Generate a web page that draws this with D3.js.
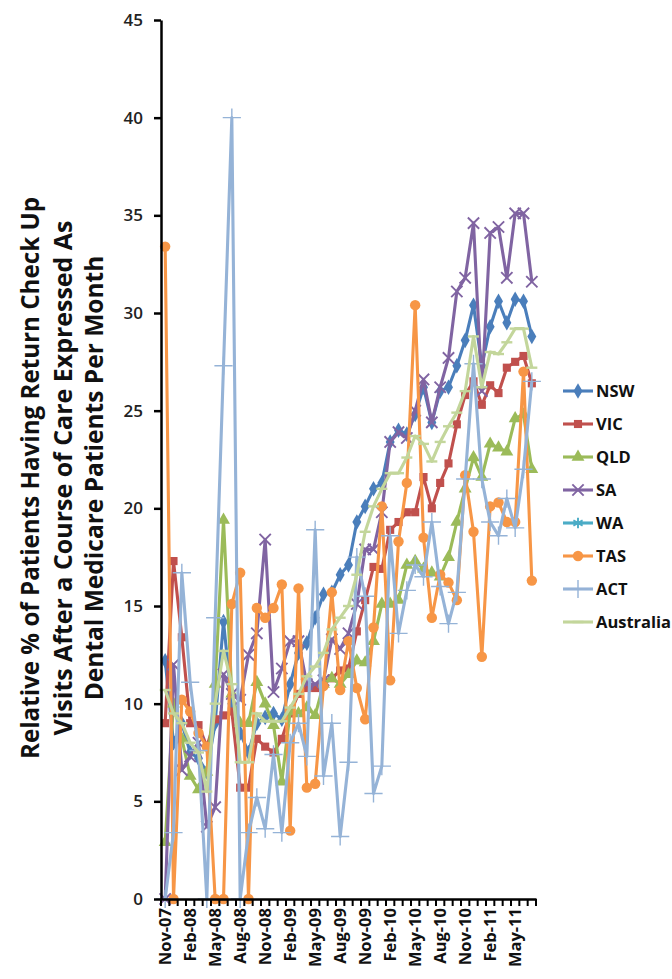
<!DOCTYPE html>
<html>
<head>
<meta charset="utf-8">
<script src="https://cdn.jsdelivr.net/npm/d3@7"></script>
<style>
    body { margin: 0; background: #fff; }
    text { font-family: "Open Sans", "DejaVu Sans", sans-serif; }
</style>
</head>
<body>
<svg id="chart" width="672" height="979"></svg>
<script>
// categories (one per month)
var months = ["Nov-07","Dec-07","Jan-08","Feb-08","Mar-08","Apr-08","May-08","Jun-08","Jul-08","Aug-08",
    "Sep-08","Oct-08","Nov-08","Dec-08","Jan-09","Feb-09","Mar-09","Apr-09","May-09","Jun-09",
    "Jul-09","Aug-09","Sep-09","Oct-09","Nov-09","Dec-09","Jan-10","Feb-10","Mar-10","Apr-10",
    "May-10","Jun-10","Jul-10","Aug-10","Sep-10","Oct-10","Nov-10","Dec-10","Jan-11","Feb-11",
    "Mar-11","Apr-11","May-11","Jun-11","Jul-11"];
var tickMonths = ["Nov-07","Feb-08","May-08","Aug-08","Nov-08","Feb-09","May-09","Aug-09",
    "Nov-09","Feb-10","May-10","Aug-10","Nov-10","Feb-11","May-11"];
var yTicks = [0, 5, 10, 15, 20, 25, 30, 35, 40, 45];

var seriesNames = ["NSW", "VIC", "QLD", "SA", "WA", "TAS", "ACT", "Australia"];
var seriesColors = ["#4a7ebb", "#c0504d", "#9bbb59", "#8064a2", "#4bacc6", "#f79646", "#95b3d7", "#c3d69b"];

var nsw = [12.2, 8.0, 9.0, 7.5, 7.2, 6.5, 9.0, 14.2, 10.0, 8.5, 7.5, 9.0, 9.3, 9.5, 9.2, 11.0, 12.6, 13.1, 14.4, 15.6,
    15.7, 16.6, 17.1, 19.3, 20.1, 21.0, 21.3, 23.4, 24.0, 23.8, 24.8, 26.2, 24.4, 26.0, 26.2, 27.3, 28.6, 30.4, 27.3, 29.3,
    30.6, 29.5, 30.7, 30.6, 28.8];
var vic = [9.0, 17.3, 13.4, 9.0, 8.9, 7.8, 9.2, 9.4, 9.6, 5.7, 5.7, 8.2, 7.8, 7.5, 8.2, 9.5, 10.5, 10.8, 10.8, 11.1,
    11.3, 11.7, 11.8, 13.7, 15.3, 17.0, 16.9, 18.9, 19.3, 19.8, 19.8, 21.6, 20.0, 21.3, 22.3, 24.3, 25.8, 26.5, 25.3, 26.3,
    25.9, 27.2, 27.5, 27.8, 26.4];
var qld = [2.9, 10.0, 8.2, 6.3, 5.6, 6.5, 11.0, 19.4, 10.5, 9.0, 9.0, 11.1, 10.0, 8.9, 6.0, 9.6, 9.5, 9.8, 9.4, 11.0,
    11.3, 11.0, 11.5, 12.2, 12.1, 13.2, 15.1, 15.1, 15.3, 17.1, 17.3, 16.9, 16.7, 16.5, 17.5, 19.3, 21.0, 22.6, 21.6, 23.3,
    23.1, 22.9, 24.6, 24.8, 22.0];
var sa = [0, 12.0, 6.6, 7.3, 8.0, 3.7, 4.7, 11.5, 10.5, 10.2, 12.5, 13.6, 18.4, 10.6, 11.8, 13.2, 13.2, 11.0, 11.0, 11.2,
    13.3, 12.8, 13.6, 15.1, 17.9, 17.9, 19.8, 23.4, 23.9, 23.6, 25.0, 26.6, 24.4, 26.2, 27.7, 31.1, 31.8, 34.6, 26.0, 34.1,
    34.4, 31.8, 35.1, 35.1, 31.6];
var wa = [];
var tas = [33.4, 0, 10.2, 9.6, 8.5, 7.8, 0, 0, 15.1, 16.7, 0, 14.9, 14.4, 14.9, 16.1, 3.5, 15.9, 5.7, 5.9, 10.9,
    15.7, 10.7, 13.2, 10.8, 9.2, 13.9, 20.1, 11.2, 18.3, 21.3, 30.4, 18.5, 14.4, 16.6, 16.2, 15.3, 21.7, 18.8, 12.4, 20.1,
    20.3, 19.3, 19.3, 27.0, 16.3];
var act = [0, 3.4, 16.7, 11.1, 7.6, 0, 14.4, 27.3, 40.0, 0, 3.4, 5.2, 3.6, 7.4, 3.4, 8.0, 9.0, 7.3, 18.9, 6.3,
    9.0, 3.2, 7.0, 17.5, 15.5, 5.4, 6.8, 18.6, 13.6, 15.8, 17.1, 16.5, 19.3, 16.0, 14.1, 15.7, 21.5, 27.4, 21.5, 19.3,
    18.6, 20.5, 19.0, 22.0, 26.5];
var australia = [10.7, 9.5, 9.0, 8.0, 7.5, 5.5, 10.0, 12.7, 11.0, 7.0, 7.0, 9.5, 9.1, 9.1, 9.1, 9.8, 10.5, 11.4, 11.9, 12.6,
    13.8, 14.4, 15.0, 16.6, 18.8, 20.1, 21.0, 21.8, 21.8, 22.6, 23.7, 23.3, 22.4, 23.4, 24.2, 24.9, 26.0, 28.8, 26.2, 28.0,
    27.9, 28.5, 29.2, 29.2, 27.2];

var seriesValues = [nsw, vic, qld, sa, wa, tas, act, australia];

var titleLines = ["Relative % of Patients Having Return Check Up",
    "Visits After a Course of Care Expressed As",
    "Dental Medicare Patients Per Month"];

var svg = d3.select("#chart");

var x = d3.scaleBand().domain(months).range([161, 536]);
var y = d3.scaleLinear().domain([0, 45]).range([899, 20]);

// marker per series
function markerPath(name) {
    var s;
    if (name === "NSW") s = d3.symbol(d3.symbolDiamond, 70);
    else if (name === "VIC") s = d3.symbol(d3.symbolSquare, 66);
    else if (name === "QLD") s = d3.symbol(d3.symbolTriangle, 72);
    else if (name === "SA") s = d3.symbol(d3.symbolTimes, 85);
    else if (name === "WA") s = d3.symbol(d3.symbolAsterisk, 80);
    else if (name === "TAS") s = d3.symbol(d3.symbolCircle, 85);
    else if (name === "ACT") s = d3.symbol(d3.symbolPlus, 110);
    else return "M-5.5,0H5.5";
    return s();
}
function isStroked(name) {
    return name === "SA" || name === "WA" || name === "ACT" || name === "Australia";
}
function styleMarker(sel, name, color) {
    if (isStroked(name)) {
        sel.attr("fill", "none").attr("stroke", color)
            .attr("stroke-width", name === "Australia" ? 2.4 : (name === "ACT" ? 1.4 : 1.9));
    } else {
        sel.attr("fill", color).attr("stroke", "none");
    }
}

var line = d3.line()
    .defined(function(d) { return d.v != null; })
    .x(function(d) { return x(d.m) + x.bandwidth() / 2; })
    .y(function(d) { return y(d.v); });

// series
seriesNames.forEach(function(name, si) {
    var pts = seriesValues[si].map(function(v, i) { return {m: months[i], v: v}; });
    var g = svg.append("g").attr("class", "series");
    g.append("path")
        .datum(pts)
        .attr("fill", "none")
        .attr("stroke", seriesColors[si])
        .attr("stroke-width", 3.1)
        .attr("stroke-linejoin", "round")
        .attr("d", line);
    g.selectAll("path.mk")
        .data(pts)
        .enter().append("path")
        .attr("class", "mk")
        .attr("transform", function(d) { return "translate(" + (x(d.m) + x.bandwidth() / 2) + "," + y(d.v) + ")"; })
        .attr("d", markerPath(name))
        .call(styleMarker, name, seriesColors[si]);
});

// y axis
var yAxis = svg.append("g")
    .attr("transform", "translate(161,0)")
    .call(d3.axisLeft(y).tickValues(yTicks).tickSize(7).tickSizeOuter(0).tickPadding(11));
yAxis.select(".domain").attr("stroke", "#000").attr("stroke-width", 2.5);
yAxis.selectAll(".tick line").attr("stroke", "#000").attr("stroke-width", 2.5);
yAxis.selectAll(".tick text")
    .attr("fill", "#222")
    .style("font-size", "17px")
    .style("font-weight", "600");

// x axis
var xAxis = svg.append("g")
    .attr("transform", "translate(0,899)")
    .call(d3.axisBottom(x).tickValues(tickMonths).tickSize(0).tickSizeOuter(0));
xAxis.select(".domain").attr("stroke", "#000").attr("stroke-width", 2.5);
xAxis.selectAll(".tick text")
    .attr("transform", "rotate(-90)")
    .attr("x", -9)
    .attr("y", 0)
    .attr("dy", "0.36em")
    .attr("fill", "#111")
    .style("text-anchor", "end")
    .style("font-size", "16.5px")
    .style("font-weight", "700");

// category boundary ticks
svg.append("g").selectAll("line")
    .data(months.concat(["end"]))
    .enter().append("line")
    .attr("x1", function(d) { return d === "end" ? x.range()[1] : x(d); })
    .attr("x2", function(d) { return d === "end" ? x.range()[1] : x(d); })
    .attr("y1", 899)
    .attr("y2", 906)
    .attr("stroke", "#000")
    .attr("stroke-width", 2);

// y title, three rotated lines fitted to measured lengths
var titleX = [31, 63, 94];
var titleLen = [562, 515, 445];
titleLines.forEach(function(t, i) {
    var txt = svg.append("text")
        .attr("transform", "translate(" + titleX[i] + ",478) rotate(-90)")
        .attr("text-anchor", "middle")
        .attr("dy", "0.35em")
        .attr("fill", "#111")
        .style("font-size", "20px")
        .style("font-weight", "700")
        .text(t);
    var w = txt.node().getComputedTextLength();
    txt.style("font-size", (20 * titleLen[i] / w).toFixed(2) + "px");
});

// legend
var legend = svg.append("g").selectAll("g")
    .data(seriesNames)
    .enter().append("g")
    .attr("transform", function(d, i) { return "translate(0," + (391 + i * 33) + ")"; });
legend.append("line")
    .attr("x1", 563).attr("x2", 593)
    .attr("stroke", function(d, i) { return seriesColors[i]; })
    .attr("stroke-width", 3.1);
legend.append("path")
    .attr("transform", "translate(578,0)")
    .attr("d", function(d) { return markerPath(d); })
    .each(function(d, i) { d3.select(this).call(styleMarker, d, seriesColors[i]); });
legend.append("text")
    .attr("x", 596)
    .attr("dy", "0.36em")
    .attr("fill", "#111")
    .style("font-size", "16.5px")
    .style("font-weight", "700")
    .text(function(d) { return d; });
</script>
</body>
</html>
